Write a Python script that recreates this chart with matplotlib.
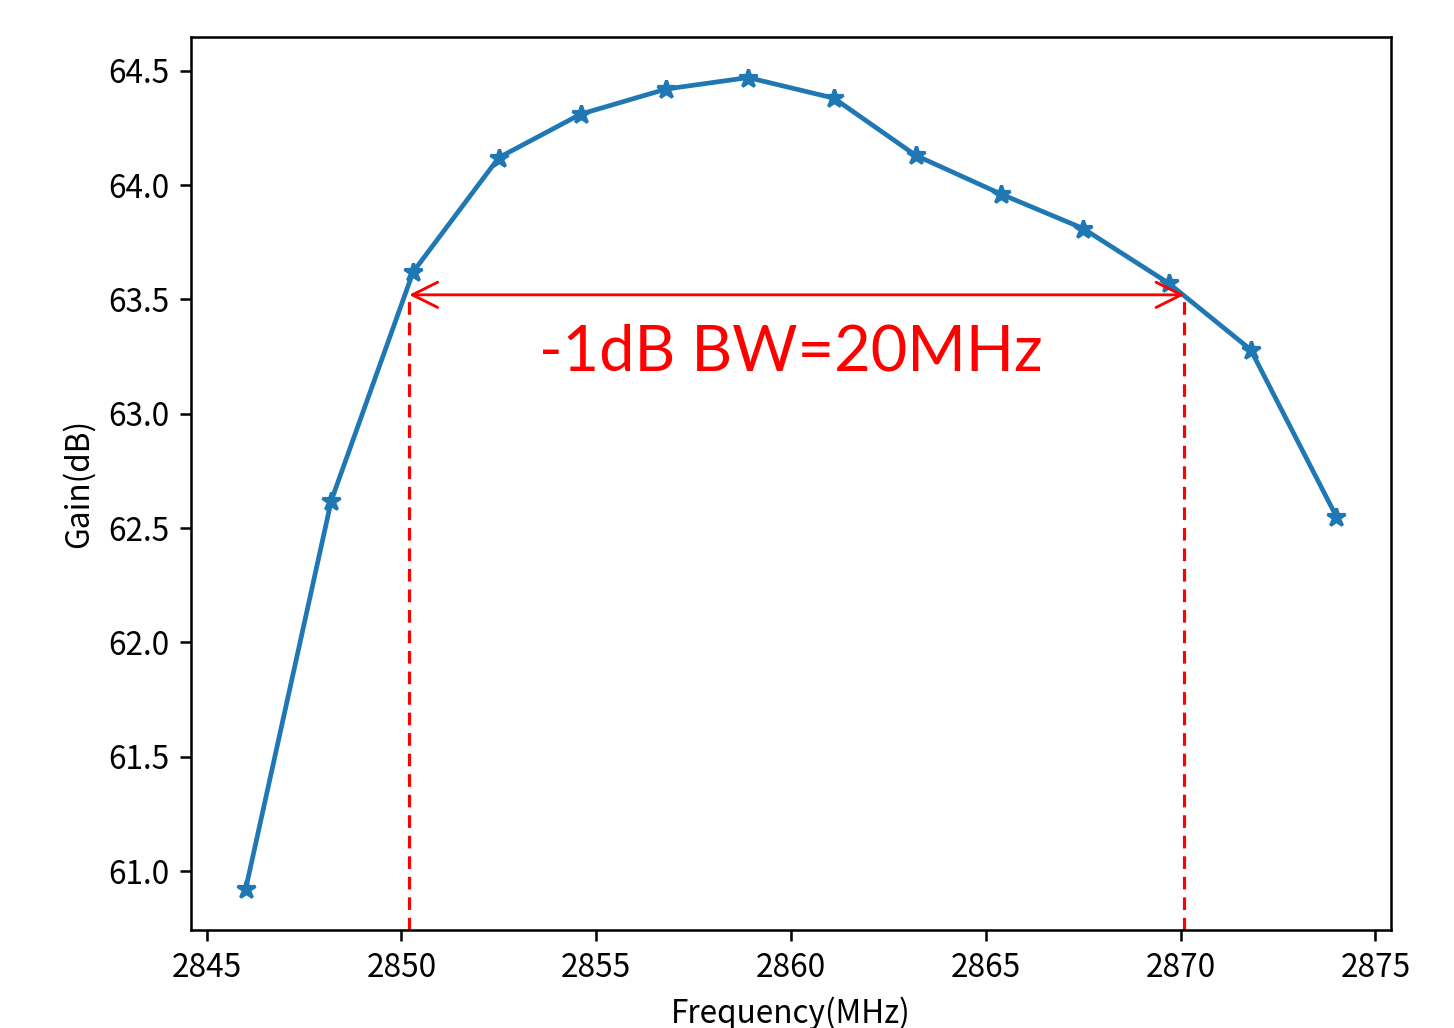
import matplotlib.pyplot as plt

plt.rcParams['font.family'] = ['Noto Sans CJK SC', 'DejaVu Sans']

freq = [2846.0, 2848.2, 2850.3, 2852.5, 2854.6, 2856.8, 2858.9,
        2861.1, 2863.2, 2865.4, 2867.5, 2869.7, 2871.8, 2874.0]
gain = [60.92, 62.62, 63.62, 64.12, 64.31, 64.42, 64.47,
        64.38, 64.13, 63.96, 63.81, 63.57, 63.28, 62.55]

bw_low, bw_high = 2850.2, 2870.1
bw_level = 63.52
bw_text = '-1dB BW=20MHz'

fig = plt.figure(figsize=(6.4, 4.522), dpi=227.34)
ax = fig.add_axes([0.1313, 0.0953, 0.8247, 0.8687])

ax.plot(freq, gain, marker='*')
ymin = ax.get_ylim()[0]
ax.set_ylim(ymin, ax.get_ylim()[1])

ax.vlines([bw_low, bw_high], ymin, bw_level, colors='red', linestyles=(0, (4, 2.5)), lw=1)
ax.annotate('', xy=(bw_low, bw_level), xytext=(bw_high, bw_level),
            arrowprops=dict(arrowstyle='<->', color='red', lw=0.9,
                            mutation_scale=20, shrinkA=0, shrinkB=0))
ax.text(2860, 63.27, bw_text, color='red', fontsize=20,
        family='Lato', ha='center', va='center')

ax.set_xlabel('Frequency(MHz)')
ax.set_ylabel('Gain(dB)')

fig.savefig('out.png')
